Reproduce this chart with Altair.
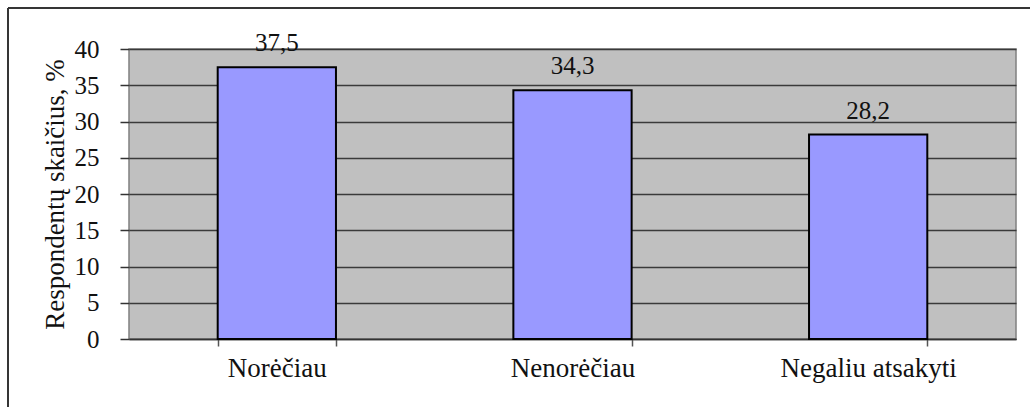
import altair as alt
import pandas as pd

categories = ["Norėčiau", "Nenorėčiau", "Negaliu atsakyti"]
values = [37.5, 34.3, 28.2]
value_labels = ["37,5", "34,3", "28,2"]
y_ticks = [0, 5, 10, 15, 20, 25, 30, 35, 40]

df = pd.DataFrame({"cat": categories, "val": values, "lbl": value_labels})

FONT = "Liberation Serif"
TXT = "#111111"
W, H = 887, 290

x_enc = alt.X(
    "cat:N",
    sort=categories,
    title=None,
    scale=alt.Scale(paddingInner=0.6, paddingOuter=0.3),
    axis=alt.Axis(
        labelAngle=0,
        labelFont=FONT,
        labelFontSize=27,
        labelColor=TXT,
        labelLimit=400,
        labelPadding=9,
        tickBand="extent",
        tickSize=7,
        tickColor="#555555",
        tickWidth=1.5,
        domainColor="#333333",
        domainWidth=1.5,
        grid=False,
    ),
)

y_enc = alt.Y(
    "val:Q",
    title="Respondentų skaičius, %",
    scale=alt.Scale(domain=[0, 40], nice=False),
    axis=alt.Axis(
        values=y_ticks,
        labelFont=FONT,
        labelFontSize=25,
        labelColor=TXT,
        labelPadding=21,
        tickSize=9,
        tickColor="#333333",
        tickWidth=1.5,
        domain=False,
        grid=True,
        gridColor="#3a3a3a",
        gridWidth=1.5,
        titleFont=FONT,
        titleFontSize=27,
        titleFontWeight="normal",
        titleColor=TXT,
        titlePadding=5,
    ),
)

bars = alt.Chart(df).mark_bar(
    color="#9999FF", stroke="#000000", strokeWidth=2
).encode(x=x_enc, y=y_enc)

labels = alt.Chart(df).mark_text(
    font=FONT, fontSize=25, color=TXT, baseline="alphabetic", dy=-16
).encode(x=x_enc, y=y_enc, text="lbl:N")

# outer frame lines (left and top edges of the figure box)
frame_left = alt.Chart(df).mark_rule(color="#333333", strokeWidth=1.5).encode(
    x=alt.value(-121), y=alt.value(-41), y2=alt.value(360)
)
frame_top = alt.Chart(df).mark_rule(color="#333333", strokeWidth=1.5).encode(
    x=alt.value(-121), x2=alt.value(905), y=alt.value(-41)
)

chart = (
    alt.layer(bars, labels, frame_left, frame_top)
    .properties(
        width=W,
        height=H,
        background="#ffffff",
        padding={"left": 129, "top": 49, "right": 14, "bottom": 68},
        autosize=alt.AutoSizeParams(type="none"),
    )
    .configure_view(fill="#C0C0C0", stroke="#808080", strokeWidth=1.5)
)

chart.save("out.html", embed_options={"renderer": "svg", "actions": False})
